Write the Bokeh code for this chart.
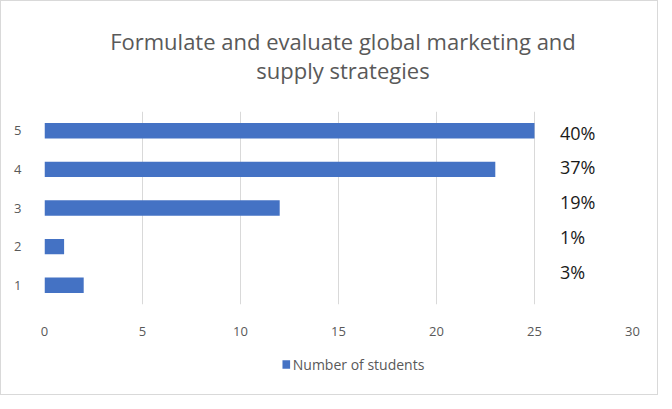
from bokeh.plotting import figure
from bokeh.layouts import column
from bokeh.models import Range1d, FixedTicker, ColumnDataSource
from bokeh.core.properties import value
from bokeh.embed import file_html
from bokeh.resources import INLINE

# Data
categories = [1, 2, 3, 4, 5]
students = [2, 1, 12, 23, 25]
pct_labels = ["40%", "37%", "19%", "1%", "3%"]   # text box, top to bottom
x_ticks = [0, 5, 10, 15, 20, 25, 30]
title_lines = ["Formulate and evaluate global marketing and", "supply strategies"]
series_name = "Number of students"

FONT = "Open Sans"
GREY = "#595959"
BLUE = "#4472c4"
W = 656
TITLE_H, MAIN_H, LEG_H = 100, 238, 55


def bare(fig):
    fig.axis.visible = False
    fig.grid.visible = False
    fig.outline_line_color = None
    return fig


# ---- title strip (pixel-like coordinates, y up) ----
t = bare(figure(width=W, height=TITLE_H, output_backend="svg", toolbar_location=None,
                x_range=Range1d(0, W), y_range=Range1d(0, TITLE_H), min_border=0))
t.text(x=[333, 333], y=[TITLE_H - 39, TITLE_H - 68], text=title_lines,
       text_font=value(FONT), text_font_size="22px", text_color=GREY,
       text_align="center", text_baseline="middle")

# ---- main chart ----
p = figure(width=W, height=MAIN_H, output_backend="svg", toolbar_location=None,
           x_range=Range1d(0, 30), y_range=Range1d(0.5, 5.5),
           min_border_left=43, min_border_right=25, min_border_top=10, min_border_bottom=35)
p.outline_line_color = None

src = ColumnDataSource(dict(y=categories, right=students))
p.hbar(y="y", right="right", left=0, height=0.4, source=src, fill_color=BLUE, line_color=None)

# percentage text box (lines spaced evenly, starting near the top bar)
top_y = 4.95
step = 0.9
pct_y = [top_y - i * step for i in range(len(pct_labels))]
p.text(x=[26.3] * len(pct_labels), y=pct_y, text=pct_labels, text_font=value(FONT),
       text_font_size="18px", text_color="#1a1a1a", text_baseline="middle", text_align="left")

p.xaxis.ticker = FixedTicker(ticks=x_ticks)
p.yaxis.ticker = FixedTicker(ticks=categories)
for ax in (p.xaxis[0], p.yaxis[0]):
    ax.axis_line_color = None
    ax.major_tick_line_color = None
    ax.minor_tick_line_color = None
    ax.major_label_text_font = FONT
    ax.major_label_text_font_size = "13px"
    ax.major_label_text_color = GREY
p.xaxis.major_label_standoff = 16
p.yaxis.major_label_standoff = 17
p.xgrid.grid_line_color = "#d9d9d9"
p.ygrid.grid_line_color = None

# ---- legend strip (swatch + series name) ----
lg = bare(figure(width=W, height=LEG_H, output_backend="svg", toolbar_location=None,
                 x_range=Range1d(0, W), y_range=Range1d(0, 50),
                 min_border_left=0, min_border_right=0, min_border_top=0, min_border_bottom=5))
lg.rect(x=[269.75], y=[25], width=8.5, height=8.5, fill_color=BLUE, line_color=None)
lg.text(x=[277], y=[25], text=[series_name], text_font=value(FONT), text_font_size="14px",
        text_color=GREY, text_align="left", text_baseline="middle")

layout = column(t, p, lg, spacing=0, styles={"border": "1px solid #d9d9d9"})

open("out.html", "w").write(file_html(layout, INLINE))
